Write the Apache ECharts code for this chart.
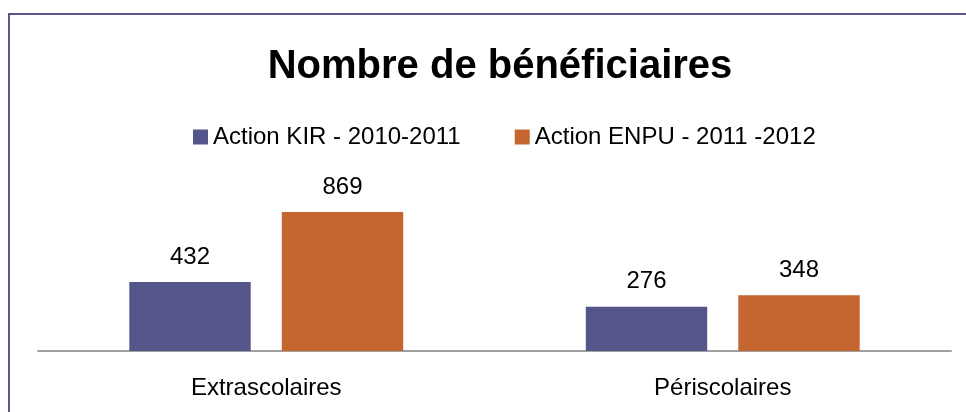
<!DOCTYPE html>
<html>
<head>
<meta charset="utf-8">
<script src="https://cdn.jsdelivr.net/npm/echarts@6/dist/echarts.min.js"></script>
<style>
  html, body { margin: 0; padding: 0; background: #fff; }
  #chart { width: 966px; height: 412px; }
</style>
</head>
<body>
<div id="chart"></div>
<script>
// données du graphique
const categories = ['Extrascolaires', 'Périscolaires'];
const kirValues = [432, 276];
const enpuValues = [869, 348];
const seriesNames = ['Action KIR - 2010-2011', 'Action ENPU - 2011 -2012'];

const FONT = '"Liberation Sans", Arial, sans-serif';

const chart = echarts.init(document.getElementById('chart'));

const option = {
    backgroundColor: '#fff',
    animation: false,
    title: {
        text: 'Nombre de bénéficiaires',
        left: 495,
        textAlign: 'center',
        top: 42,
        textStyle: {
            fontFamily: FONT,
            fontSize: 40,
            fontWeight: 'bold',
            color: '#000',
        },
    },
    legend: {
        data: seriesNames,
        left: 188,
        top: 120,
        icon: 'rect',
        itemWidth: 15,
        itemHeight: 15,
        itemGap: 54,
        textStyle: {
            fontFamily: FONT,
            fontSize: 24,
            color: '#000',
        },
    },
    grid: {
        left: 38,
        right: 15,
        top: 191,
        bottom: 61,
        containLabel: false,
    },
    xAxis: {
        type: 'category',
        data: categories,
        axisTick: { show: false },
        axisLine: {
            lineStyle: { color: '#a0a0a0', width: 2 },
        },
        axisLabel: {
            margin: 25,
            fontFamily: FONT,
            fontSize: 24,
            color: '#000',
        },
    },
    yAxis: {
        type: 'value',
        min: 0,
        max: 1000,
        show: false,
        splitLine: { show: false },
    },
    series: [
        {
            name: seriesNames[0],
            type: 'bar',
            data: kirValues,
            barGap: '25.6%',
            barCategoryGap: '40%',
            itemStyle: { color: '#545589' },
            label: {
                show: true,
                position: 'top',
                distance: 13,
                fontFamily: FONT,
                fontSize: 24,
                color: '#000',
            },
        },
        {
            name: seriesNames[1],
            type: 'bar',
            data: enpuValues,
            itemStyle: { color: '#c5652f' },
            label: {
                show: true,
                position: 'top',
                distance: 13,
                fontFamily: FONT,
                fontSize: 24,
                color: '#000',
            },
        },
    ],
    // cadre du graphique
    graphic: [
        {
            type: 'rect',
            shape: { x: 9, y: 14, width: 2000, height: 2000 },
            style: { fill: 'none', stroke: '#58588f', lineWidth: 2 },
            silent: true,
        },
    ],
};

chart.setOption(option);
</script>
</body>
</html>
